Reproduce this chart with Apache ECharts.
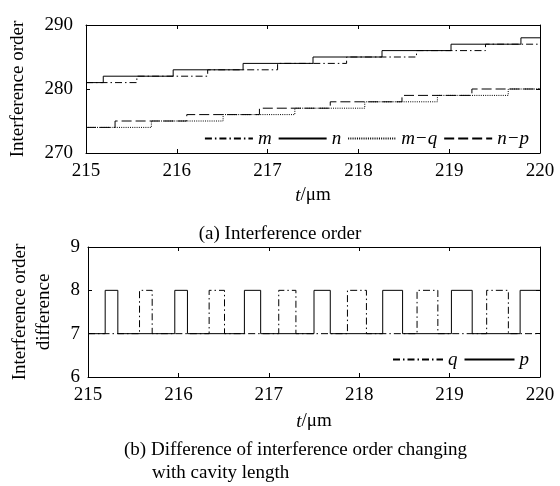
<!DOCTYPE html>
<html>
<head>
<meta charset="utf-8">
<script src="https://cdn.jsdelivr.net/npm/echarts@6/dist/echarts.min.js"></script>
<style>
  html, body { margin: 0; padding: 0; background: #fff; }
  #main { width: 560px; height: 486px; }
</style>
</head>
<body>
<div id="main"></div>
<script>
// (a) interference order: time where each step starts, and its order value
const mT = [215, 215.56, 216.34, 217.11, 217.87, 218.64, 219.40];
const mV = [281, 282, 283, 284, 285, 286, 287];
const nT = [215, 215.19, 215.96, 216.73, 217.50, 218.26, 219.02, 219.79];
const nV = [281, 282, 283, 284, 285, 286, 287, 288];
const mqT = [215, 215.72, 216.51, 217.30, 218.07, 218.87, 219.65];
const mqV = [274, 275, 276, 277, 278, 279, 280];
const npT = [215, 215.32, 216.11, 216.91, 217.69, 218.48, 219.25];
const npV = [274, 275, 276, 277, 278, 279, 280];

// (b) order difference: pulses from 7 up to 8
const qRise = [215.57, 216.34, 217.11, 217.87, 218.64, 219.41];
const qFall = [215.71, 216.51, 217.30, 218.08, 218.87, 219.65];
const pRise = [215.19, 215.96, 216.73, 217.50, 218.26, 219.02, 219.78];
const pFall = [215.33, 216.10, 216.91, 217.68, 218.48, 219.25];

const tMin = 215, tMax = 220;
const FONT = "'Liberation Serif', 'Times New Roman', serif";

function stepData(ts, vs) {
  let d = ts.map((t, i) => [t, vs[i]]);
  d.push([tMax, vs[vs.length - 1]]);
  return d;
}

function pulseData(rise, fall) {
  let d = [[tMin, 7]];
  for (let i = 0; i < rise.length; i++) {
    d.push([rise[i], 7], [rise[i], 8]);
    if (i < fall.length) {
      d.push([fall[i], 8], [fall[i], 7]);
    } else {
      d.push([tMax, 8]);
    }
  }
  if (fall.length >= rise.length) d.push([tMax, 7]);
  return d;
}

const dashDot = [7, 3, 1.5, 3];
const dotted = [1, 1.2];
const dashed = [10, 4];

let boxAxis = (grid, pos, min, max, interval) => ({
  gridIndex: grid,
  type: 'value',
  position: pos,
  min: min,
  max: max,
  interval: interval,
  axisLine: { show: true, lineStyle: { color: '#000', width: 1 } },
  axisTick: { show: true, inside: true, length: 4, lineStyle: { color: '#000' } },
  axisLabel: { show: false },
  splitLine: { show: false },
});

let xMain = (grid, gap) => ({
  gridIndex: grid,
  type: 'value',
  min: tMin,
  max: tMax,
  interval: 1,
  position: 'bottom',
  axisLine: { show: true, onZero: false, lineStyle: { color: '#000', width: 1 } },
  axisTick: { show: true, inside: true, length: 4, lineStyle: { color: '#000' } },
  axisLabel: { color: '#000', fontSize: 19, fontFamily: FONT, margin: 9 },
  splitLine: { show: false },
  name: '{i|t}/μm',
  nameLocation: 'middle',
  nameGap: gap,
  nameTextStyle: {
    color: '#000', fontSize: 19, fontFamily: FONT,
    rich: { i: { fontStyle: 'italic', fontSize: 19, fontFamily: FONT, color: '#000' } },
  },
});

let lineSeries = (name, xi, yi, data, type, step) => ({
  name: name,
  type: 'line',
  xAxisIndex: xi,
  yAxisIndex: yi,
  step: step,
  symbol: 'none',
  silent: true,
  data: data,
  lineStyle: { color: '#000', width: 1, type: type },
  itemStyle: { color: '#000' },
});

let legendStyle = {
  color: '#000', fontSize: 19, fontFamily: FONT, fontStyle: 'italic',
};

var myChart = echarts.init(document.getElementById('main'));
let option = {
  animation: false,
  backgroundColor: '#fff',
  grid: [
    { left: 86, right: 20, top: 25, height: 128 },
    { left: 86, right: 20, top: 247, height: 130 },
  ],
  xAxis: [
    xMain(0, 33),
    boxAxis(0, 'top', tMin, tMax, 1),
    xMain(1, 35),
    boxAxis(1, 'top', tMin, tMax, 1),
  ],
  yAxis: [
    {
      gridIndex: 0,
      type: 'value',
      min: 270,
      max: 290,
      interval: 10,
      axisLine: { show: true, lineStyle: { color: '#000', width: 1 } },
      axisTick: { show: true, inside: true, length: 4, lineStyle: { color: '#000' } },
      axisLabel: { color: '#000', fontSize: 19, fontFamily: FONT, margin: 13 },
      splitLine: { show: false },
      name: 'Interference order',
      nameLocation: 'middle',
      nameRotate: 90,
      nameGap: 58,
      nameTextStyle: { color: '#000', fontSize: 19, fontFamily: FONT },
    },
    boxAxis(0, 'right', 270, 290, 10),
    {
      gridIndex: 1,
      type: 'value',
      min: 6,
      max: 9,
      interval: 1,
      axisLine: { show: true, lineStyle: { color: '#000', width: 1 } },
      axisTick: { show: true, inside: true, length: 4, lineStyle: { color: '#000' } },
      axisLabel: { color: '#000', fontSize: 19, fontFamily: FONT, margin: 8 },
      splitLine: { show: false },
      name: 'Interference order\ndifference',
      nameLocation: 'middle',
      nameRotate: 90,
      nameGap: 32,
      nameTextStyle: { color: '#000', fontSize: 19, fontFamily: FONT, lineHeight: 24 },
    },
    boxAxis(1, 'right', 6, 9, 1),
  ],
  legend: [
    {
      data: ['m', 'n', 'm−q', 'n−p'],
      right: 26,
      top: 124,
      itemWidth: 48,
      itemHeight: 10,
      itemGap: 6,
      itemStyle: { opacity: 0 },
      textStyle: legendStyle,
      selectedMode: false,
    },
    {
      data: ['q', 'p'],
      right: 26,
      top: 345,
      itemWidth: 50,
      itemHeight: 10,
      itemGap: 6,
      itemStyle: { opacity: 0 },
      textStyle: legendStyle,
      selectedMode: false,
    },
  ],
  graphic: [
    {
      type: 'text', left: 'center', top: 225,
      style: { text: '(a) Interference order', fill: '#000', font: '19px ' + FONT },
    },
    {
      type: 'text', left: 124, top: 441,
      style: { text: '(b) Difference of interference order changing', fill: '#000', font: '19px ' + FONT },
    },
    {
      type: 'text', left: 152, top: 464,
      style: { text: 'with cavity length', fill: '#000', font: '19px ' + FONT },
    },
  ],
  series: [
    lineSeries('m', 0, 0, stepData(mT, mV), dashDot, 'end'),
    lineSeries('n', 0, 0, stepData(nT, nV), 'solid', 'end'),
    lineSeries('m−q', 0, 0, stepData(mqT, mqV), dotted, 'end'),
    lineSeries('n−p', 0, 0, stepData(npT, npV), dashed, 'end'),
    lineSeries('q', 2, 2, pulseData(qRise, qFall), dashDot, false),
    lineSeries('p', 2, 2, pulseData(pRise, pFall), 'solid', false),
  ],
};
myChart.setOption(option);
</script>
</body>
</html>
